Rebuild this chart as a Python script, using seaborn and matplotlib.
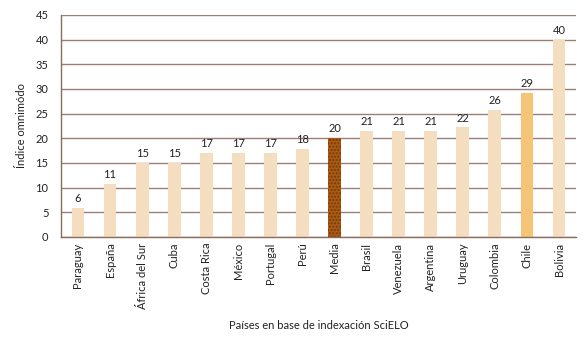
import matplotlib
matplotlib.use("Agg")
import matplotlib.pyplot as plt
import seaborn as sns
import pandas as pd

paises = ["Paraguay", "España", "África del Sur", "Cuba", "Costa Rica", "México",
          "Portugal", "Perú", "Media", "Brasil", "Venezuela", "Argentina",
          "Uruguay", "Colombia", "Chile", "Bolivia"]
valores = [5.8, 10.7, 15.0, 15.0, 17.0, 17.0, 17.0, 17.8, 20.0, 21.5, 21.5, 21.5,
           22.2, 25.7, 29.2, 40.0]
etiquetas = ["6", "11", "15", "15", "17", "17", "17", "18", "20", "21", "21", "21",
             "22", "26", "29", "40"]

sns.set_theme(style="white")
plt.rcParams['font.family'] = ['Lato', 'DejaVu Sans']

light = "#F5DDC0"
palette = {p: light for p in paises}
palette["Media"] = "#A85A14"
palette["Chile"] = "#F5C477"

df = pd.DataFrame({"pais": paises, "valor": valores})

fig = plt.figure(figsize=(5.86, 3.4), dpi=100)
ax = fig.add_axes([0.104, 0.303, 0.879, 0.653])
ax.set_axisbelow(True)
ax.yaxis.grid(True, color="#9C7F74", linewidth=1.0)
sns.barplot(data=df, x="pais", y="valor", hue="pais", palette=palette,
            width=0.4, legend=False, ax=ax, saturation=1)

for i, patch in enumerate(ax.patches):
    if paises[min(i, len(paises)-1)] == "Media":
        patch.set_hatch(".....")
        patch.set_edgecolor("#7A3A08")
        patch.set_linewidth(0)
    else:
        patch.set_linewidth(0)

fs = 8
for i, (v, t) in enumerate(zip(valores, etiquetas)):
    ax.text(i, v + 0.8, t, ha="center", va="bottom", fontsize=fs, color="#222222")

ax.set_ylim(0, 45)
ax.set_xlim(-0.53, 15.53)
ax.set_yticks(range(0, 46, 5))
ax.tick_params(axis="y", labelsize=fs, length=3, color="#8B6B5E", pad=6, colors="#222222")
ax.tick_params(axis="y", which="both", color="#8B6B5E")
ax.tick_params(axis="x", labelsize=fs, length=0, rotation=90, pad=4, colors="#222222")
for s in ["top", "right"]:
    ax.spines[s].set_visible(False)
for s in ["left", "bottom"]:
    ax.spines[s].set_color("#8B6B5E")
    ax.spines[s].set_linewidth(1.0)
ax.set_ylabel("Índice omnimódo", fontsize=fs, color="#222222", labelpad=6)
ax.set_xlabel("Países en base de indexación SciELO", fontsize=fs, color="#222222", labelpad=8)

fig.savefig("out.png", dpi=100)
